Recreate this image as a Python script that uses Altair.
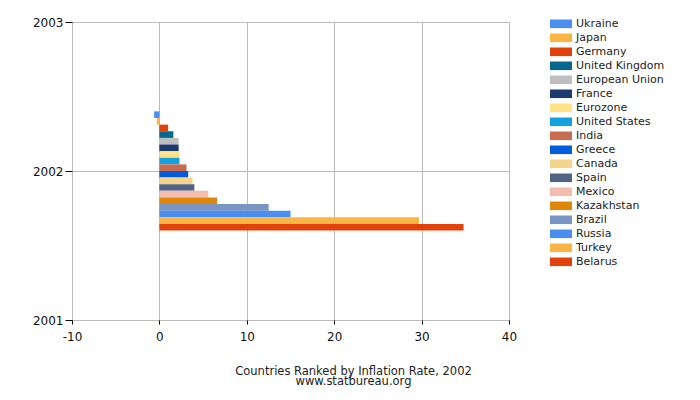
import altair as alt
import pandas as pd

countries = ["Ukraine", "Japan", "Germany", "United Kingdom", "European Union", "France",
             "Eurozone", "United States", "India", "Greece", "Canada", "Spain", "Mexico",
             "Kazakhstan", "Brazil", "Russia", "Turkey", "Belarus"]
inflation = [-0.6, -0.3, 1.0, 1.6, 2.2, 2.2, 2.3, 2.3, 3.1, 3.3, 3.8, 4.0, 5.6, 6.6,
             12.5, 15.0, 29.7, 34.8]
colors = ["#4A8FEF", "#FBB545", "#E1420C", "#06688F", "#BEBEBE", "#1C3A6E", "#FFE386",
          "#15A0DF", "#C86C51", "#025CDB", "#F5D48A", "#526485", "#F2BCAE", "#DF870B",
          "#7895C3", "#4A8FEF", "#FBB545", "#E1420C"]
year = 2002
x_ticks = [-10, 0, 10, 20, 30, 40]
y_ticks = [2001, 2002, 2003]

df = pd.DataFrame({"country": countries, "rate": inflation, "year": year})

n = len(countries)
band = 0.8
step = band / n

chart = (
    alt.Chart(df)
    .transform_window(idx="row_number()")
    .transform_calculate(
        ytop=f"datum.year + {band / 2} - (datum.idx - 1) * {step}",
        ybot=f"datum.year + {band / 2} - datum.idx * {step}",
    )
    .mark_bar(cornerRadius=0)
    .encode(
        x=alt.X("rate:Q", scale=alt.Scale(domain=[-10, 40], nice=False),
                axis=alt.Axis(values=x_ticks, title=None, tickCount=len(x_ticks),
                              labelFlush=False, labelExpr="toString(datum.value)")),
        x2=alt.datum(0),
        y=alt.Y("ytop:Q", scale=alt.Scale(domain=[2001, 2003], nice=False, zero=False),
                axis=alt.Axis(values=y_ticks, title=None, tickCount=len(y_ticks),
                              labelFlush=False, labelOverlap=False,
                              labelExpr="toString(datum.value)")),
        y2="ybot:Q",
        color=alt.Color("country:N",
                        scale=alt.Scale(domain=countries, range=colors),
                        sort=countries,
                        legend=alt.Legend(title=None, orient="none", legendX=483.5, legendY=-3.7,
                                          symbolType="M-2,-0.78H2V0.78H-2Z", symbolSize=121,
                                          symbolStrokeWidth=0, labelOffset=9.5,
                                          labelFontSize=11, labelFont="DejaVu Sans",
                                          labelColor="#222", rowPadding=2, padding=0,
                                          labelLimit=200)),
    )
    .properties(
        width=437, height=298,
        autosize=alt.AutoSizeParams(type="none"),
        padding={"left": 64, "top": 14, "right": 183, "bottom": 72},
        title=alt.TitleParams(
            text=["Countries Ranked by Inflation Rate, 2002", "www.statbureau.org"],
            orient="bottom", anchor="middle", dx=63, offset=24,
            fontSize=11.5, font="DejaVu Sans", fontWeight="normal", color="#222", lineHeight=9.5,
        ),
    )
    .configure_view(stroke="#aaaaaa", strokeWidth=1)
    .configure_axis(
        domain=False, gridColor="#bbbbbb", gridWidth=1, tickColor="#000", tickWidth=1,
        labelFont="DejaVu Sans", labelFontSize=12, labelColor="#111",
    )
    .configure_axisY(tickSize=7, labelPadding=2)
    .configure_axisX(tickSize=4, labelPadding=7)
)

chart.save("out.html", embed_options={"renderer": "svg", "actions": False})
